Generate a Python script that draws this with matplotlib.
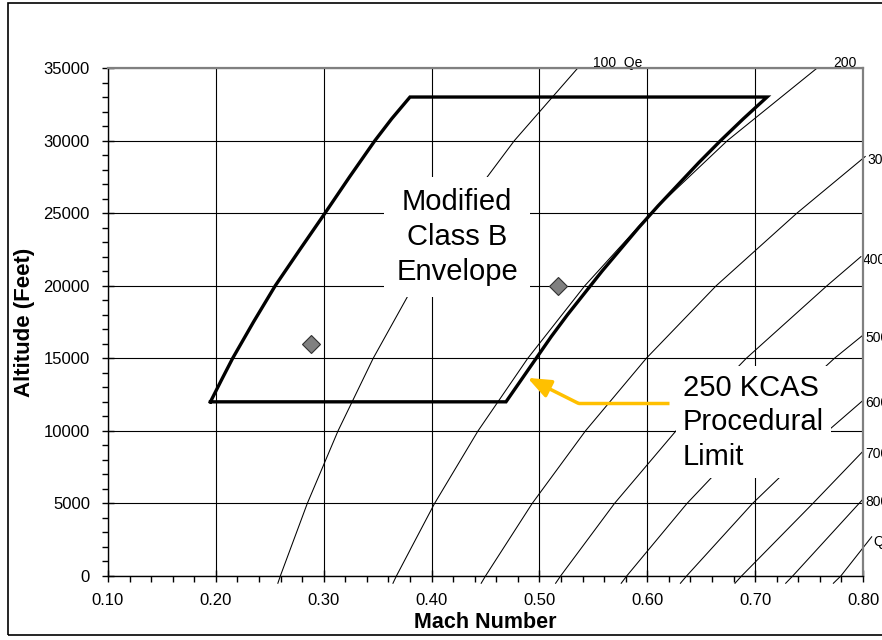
import matplotlib
matplotlib.use("Agg")
import matplotlib.pyplot as plt
import matplotlib.patches as mpatches
from matplotlib.ticker import MultipleLocator, FormatStrFormatter

plt.rcParams['font.family'] = ['Liberation Sans', 'DejaVu Sans']

# --- constant Qe (psf) lines: Mach number vs altitude ---
qe_labels = ['100  Qe', '200', '300', '400', '500', '600', '700', '800', 'Qe']
qe_alt = [
    [-500, 0, 5000, 10000, 15000, 20000, 25000, 30000, 35000],
    [-500, 0, 5000, 10000, 15000, 20000, 25000, 30000, 35000],
    [-500, 0, 5000, 10000, 15000, 20000, 25000, 28900],
    [-500, 0, 5000, 10000, 15000, 20000, 22000],
    [-500, 0, 5000, 10000, 15000, 16600],
    [-500, 0, 5000, 10000, 12100],
    [-500, 0, 5000, 8600],
    [-500, 0, 5300],
    [-500, 0, 2700],
]
qe_mach = [
    [0.2575, 0.2598, 0.2848, 0.3133, 0.3459, 0.3833, 0.4265, 0.4768, 0.5356],
    [0.3642, 0.3674, 0.4028, 0.4431, 0.4892, 0.5421, 0.6032, 0.6743, 0.7575],
    [0.4460, 0.4500, 0.4933, 0.5427, 0.5991, 0.6639, 0.7387, 0.8020],
    [0.5150, 0.5196, 0.5696, 0.6266, 0.6918, 0.7666, 0.7980],
    [0.5758, 0.5809, 0.6368, 0.7006, 0.7735, 0.8000],
    [0.6307, 0.6364, 0.6976, 0.7674, 0.8000],
    [0.6813, 0.6874, 0.7535, 0.8000],
    [0.7283, 0.7348, 0.8000],
    [0.7725, 0.7794, 0.8080],
]
# label offsets from line end (pixels)
qe_label_dx = [15, 16, 2, 2, 2, 2, 2, 2, 2]
qe_label_dy = [5, 5, -3, -3, -3, -3, -3, -3, -5]

# --- Modified Class B envelope (closed outline) ---
env_mach = [0.195, 0.2052, 0.2156, 0.2349, 0.2551, 0.2780, 0.3012, 0.3240, 0.3475, 0.3630, 0.380,
            0.711, 0.689, 0.668, 0.648, 0.629, 0.610, 0.592, 0.575, 0.558, 0.542, 0.526,
            0.511, 0.497, 0.483, 0.469, 0.195]
env_alt = [12000, 13500, 15000, 17500, 20000, 22500, 25000, 27500, 30000, 31500, 33000,
           33000, 31500, 30000, 28500, 27000, 25500, 24000, 22500, 21000, 19500, 18000,
           16500, 15000, 13500, 12000, 12000]

# --- test points ---
pt_mach = [0.288, 0.517]
pt_alt = [16000, 20000]

# --- annotation arrow (tail, elbow, tip) ---
arrow_mach = [0.620, 0.536, 0.489]
arrow_alt = [11900, 11900, 13650]

fig = plt.figure(figsize=(8.82, 6.4), dpi=100)
ax = fig.add_axes([0.1224, 0.1, 0.8561, 0.79375])

# outer chart border
fig.patches.append(mpatches.Rectangle((0.009, 0.008), 1.2, 0.987, transform=fig.transFigure,
                                      fill=False, ec='black', lw=1.2))

ax.set_xlim(0.10, 0.80)
ax.set_ylim(0, 35000)
ax.xaxis.set_major_locator(MultipleLocator(0.1))
ax.xaxis.set_minor_locator(MultipleLocator(0.02))
ax.yaxis.set_major_locator(MultipleLocator(5000))
ax.yaxis.set_minor_locator(MultipleLocator(1000))
ax.xaxis.set_major_formatter(FormatStrFormatter('%.2f'))
ax.yaxis.set_major_formatter(FormatStrFormatter('%d'))
ax.tick_params(which='major', direction='inout', length=8, width=1, labelsize=12, color='black')
ax.tick_params(which='minor', direction='out', length=4, width=1, color='black')
ax.tick_params(axis='x', which='major', pad=8)
ax.tick_params(axis='y', which='major', pad=9)

ax.grid(True, which='major', color='black', lw=0.8)
ax.set_axisbelow(True)
for s in ['top', 'right']:
    ax.spines[s].set_color('#808080')
    ax.spines[s].set_linewidth(1.6)
for s in ['left', 'bottom']:
    ax.spines[s].set_color('black')
    ax.spines[s].set_linewidth(1.0)

ax.set_xlabel('Mach Number', fontsize=15.5, fontweight='bold', labelpad=3)
ax.set_ylabel('Altitude (Feet)', fontsize=16, fontweight='bold', labelpad=6)

# Qe lines, allowed to run slightly below the axis
clip = mpatches.Rectangle((0.10, -1000), 0.75, 37000, transform=ax.transData)
for lab, alts, machs, dx, dy in zip(qe_labels, qe_alt, qe_mach, qe_label_dx, qe_label_dy):
    ln, = ax.plot(machs, alts, color='black', lw=0.75, zorder=2)
    ln.set_clip_path(clip)
    ax.annotate(lab, xy=(machs[-1], alts[-1]), xytext=(dx, dy), textcoords='offset pixels',
                ha='left', va='center', fontsize=10, annotation_clip=False, zorder=2)

# envelope
ax.plot(env_mach, env_alt, color='black', lw=2.4, zorder=4, solid_joinstyle='miter')

# text boxes
ax.text(0.4236, 23350, 'Modified\nClass B\nEnvelope', ha='center', va='center', fontsize=21,
        linespacing=1.3, zorder=3,
        bbox=dict(boxstyle='square,pad=0.4', fc='white', ec='none'))
ax.text(0.633, 10600, '250 KCAS\nProcedural\nLimit', ha='left', va='center', fontsize=21,
        linespacing=1.3, zorder=3,
        bbox=dict(boxstyle='square,pad=0.25', fc='white', ec='none'))

# test points
ax.plot(pt_mach, pt_alt, linestyle='none', marker='D', markersize=9,
        markerfacecolor='#808080', markeredgecolor='#303030', markeredgewidth=0.8, zorder=6)

# yellow arrow
ax.plot(arrow_mach[:2], arrow_alt[:2], color='#FFC000', lw=2.5, zorder=5, solid_capstyle='butt')
ax.annotate('', xy=(arrow_mach[2], arrow_alt[2]), xytext=(arrow_mach[1], arrow_alt[1]),
            arrowprops=dict(arrowstyle='-|>,head_length=1.0,head_width=0.4', color='#FFC000',
                            lw=2.5, shrinkA=0, shrinkB=0, mutation_scale=14), zorder=5)

fig.savefig('out.png', dpi=100)
